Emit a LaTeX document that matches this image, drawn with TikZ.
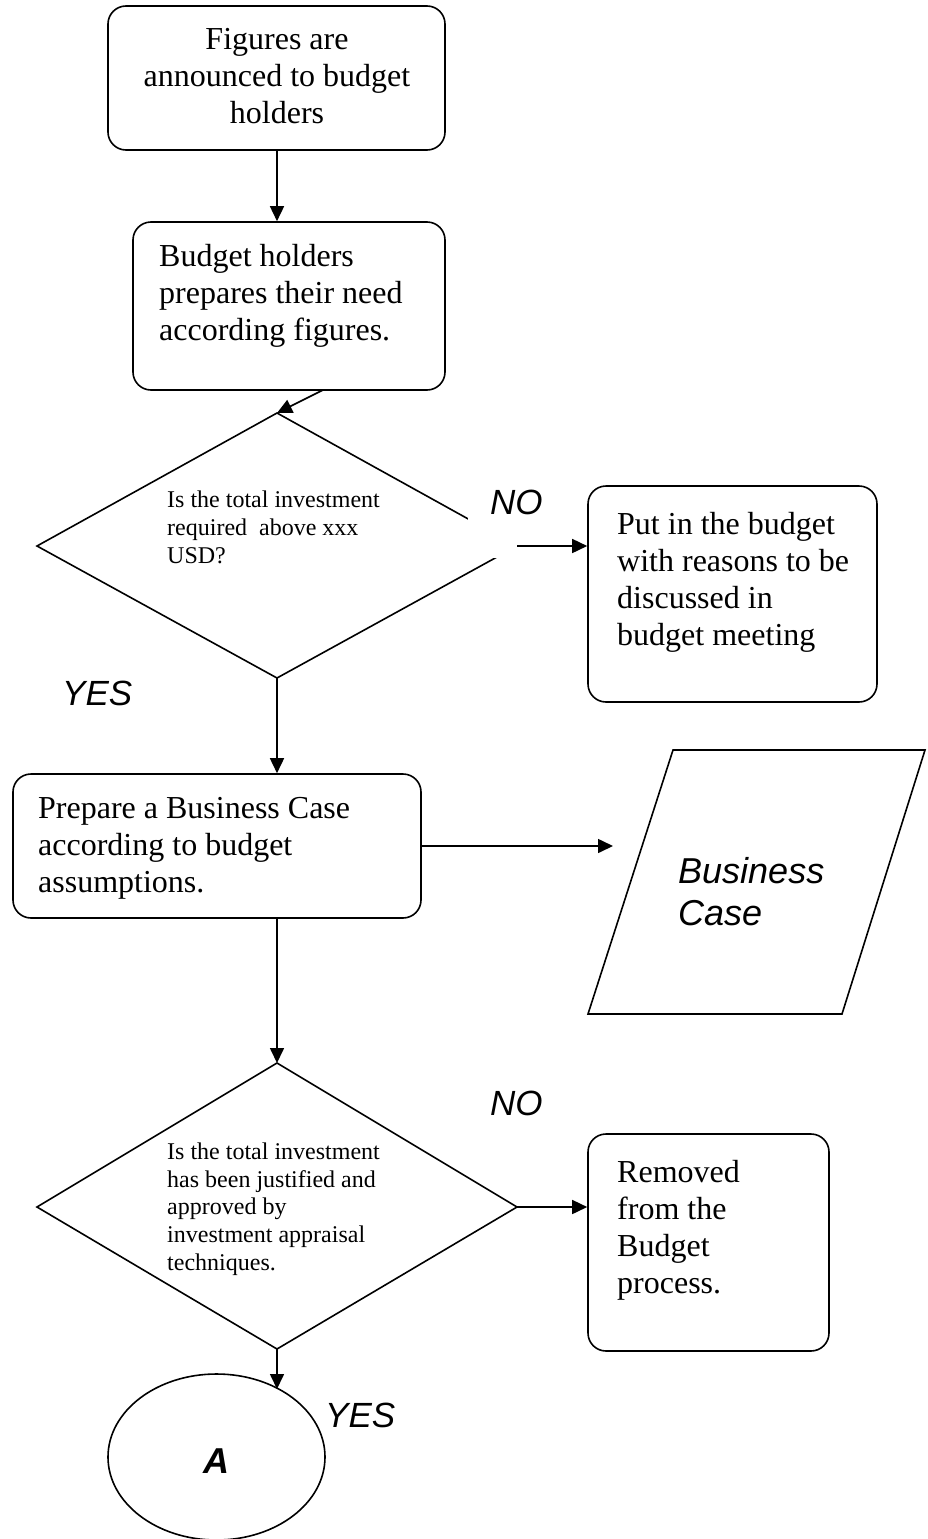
\documentclass[tikz,border=0pt]{standalone}
\usepackage{fontspec}
\setmainfont{Liberation Serif}
\setsansfont{Liberation Sans}
\usetikzlibrary{shapes.geometric,arrows.meta}
\begin{document}
\begin{tikzpicture}[x=1pt,y=-1pt,
  box/.style={draw,rounded corners=18pt,inner sep=0pt,line width=1.6pt},
  big/.style={font=\fontsize{32}{36.8}\selectfont,inner sep=0pt},
  small/.style={font=\fontsize{24}{27.6}\selectfont,inner sep=0pt},
  lab/.style={font=\sffamily\itshape\fontsize{35}{40}\selectfont,inner sep=0pt},
  arr/.style={-{Triangle[length=15pt,width=14pt]},line width=1.6pt},
  shp/.style={draw,line width=1.6pt,line join=miter}]
\useasboundingbox (0,0) rectangle (928,1539);

% boxes
\node[box,minimum width=337pt,minimum height=144pt] (b1) at (276.5,78) {};
\node[box,minimum width=312pt,minimum height=168pt] (b2) at (289,306) {};
\node[box,minimum width=289pt,minimum height=216pt] (b3) at (732.5,594) {};
\node[box,minimum width=408pt,minimum height=144pt] (b4) at (217,846) {};
\node[box,minimum width=241pt,minimum height=217pt] (b5) at (708.5,1242.5) {};

% diamonds
\coordinate (d1n) at (277,413);
\coordinate (d1e) at (517,546);
\coordinate (d1s) at (277,678);
\coordinate (d1w) at (37,546);
\draw[shp] (d1n) -- (d1e) -- (d1s) -- (d1w) -- cycle;
\coordinate (d2n) at (277,1063);
\coordinate (d2e) at (517,1207);
\coordinate (d2s) at (277,1349);
\coordinate (d2w) at (37,1207);
\draw[shp] (d2n) -- (d2e) -- (d2s) -- (d2w) -- cycle;

% parallelogram
\coordinate (p1) at (588,1014);
\coordinate (p2) at (673,750);
\coordinate (p3) at (925,750);
\coordinate (p4) at (842,1014);
\draw[shp] (p1) -- (p2) -- (p3) -- (p4) -- cycle;

% connector A
\node[draw,ellipse,line width=1.6pt,minimum width=217pt,minimum height=166pt,inner sep=0pt] (A) at (216.5,1457) {};

% white label background over first diamond
\fill[white] (468,470) rectangle (560,558);

% free ends
\coordinate (b2out) at (323,390);
\coordinate (pc) at (613,846);
\coordinate (aTop) at (277,1389);

% connectors
\draw[arr] (b1.south -| d1n) -- (b2.north -| d1n);
\draw[arr] (b2out) -- (d1n);
\draw[arr] (d1e) -- (d1e -| b3.west);
\draw[arr] (d1s) -- (d1s |- b4.north);
\draw[arr] (b4.east) -- (pc);
\draw[arr] (b4.south -| d2n) -- (d2n);
\draw[arr] (d2e) -- (d2e -| b5.west);
\draw[arr] (d2s) -- (aTop);

% texts (anchored at the baseline of the last line)
\node[big,anchor=base,align=center] (t1) at (277,123) {Figures are\\announced to budget\\holders};
\node[big,anchor=base west,align=left] (t2) at (159,340) {Budget holders\\prepares their need\\according figures.};
\node[small,anchor=base west,align=left] (t3) at (167,563) {Is the total investment\\required\ \ above xxx\\USD?};
\node[big,anchor=base west,align=left] (t4) at (617,645) {Put in the budget\\with reasons to be\\discussed in\\budget meeting};
\node[big,anchor=base west,align=left] (t5) at (38,892) {Prepare a Business Case\\according to budget\\assumptions.};
\node[small,anchor=base west,align=left] (t6) at (167,1270) {Is the total investment\\has been justified and\\approved by\\investment appraisal\\techniques.};
\node[big,anchor=base west,align=left] (t7) at (617,1293) {Removed\\from the\\Budget\\process.};

\node[lab,anchor=base west] (no1) at (490,514) {NO};
\node[lab,anchor=base west] (yes1) at (62,705) {YES};
\node[lab,anchor=base west] (no2) at (490,1115) {NO};
\node[lab,anchor=base west] (yes2) at (325,1427) {YES};
\node[font=\sffamily\itshape\fontsize{36}{42}\selectfont,inner sep=0pt,anchor=base west,align=left] (bc) at (678,925) {Business\\Case};
\node[font=\sffamily\bfseries\itshape\fontsize{36}{42}\selectfont,inner sep=0pt,anchor=base] (At) at (216,1473) {A};
\end{tikzpicture}
\end{document}
